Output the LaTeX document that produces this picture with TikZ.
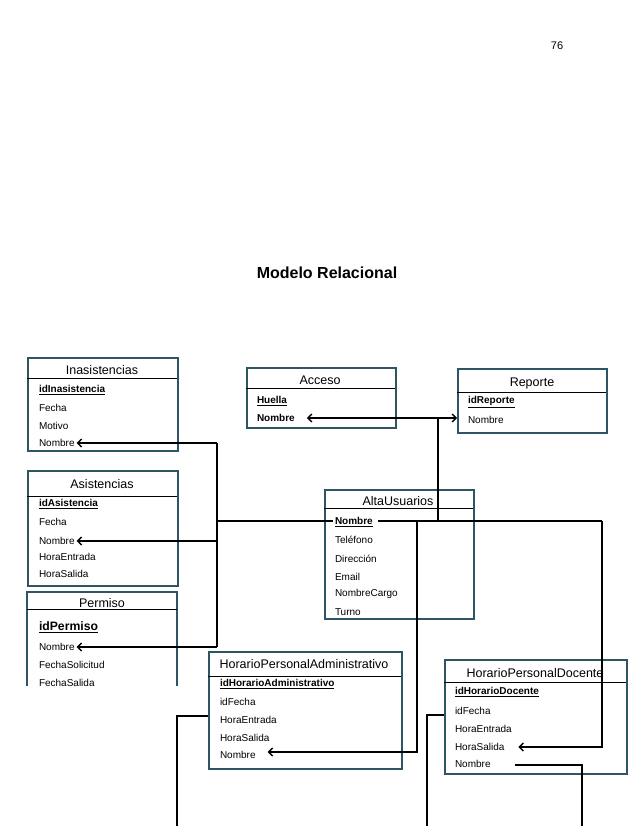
\documentclass[tikz,border=0pt]{standalone}
\usepackage{fontspec}
\setmainfont{Liberation Sans}
\usetikzlibrary{arrows.meta}
\definecolor{boxc}{RGB}{45,85,100}
\newcommand{\fs}{\fontsize{10}{12}\selectfont}
\newcommand{\hs}{\fontsize{12.5}{14}\selectfont}
\tikzset{
  tbl/.style={draw=boxc, line width=2.2pt, fill=white, anchor=north west, inner sep=0pt},
  fld/.style={anchor=west, font=\fs, inner sep=0pt, outer sep=2pt},
  key/.style={fld, font=\fs\bfseries},
  hdr/.style={font=\hs, inner sep=0pt},
  sep/.style={line width=0.8pt},
  con/.style={line width=1.4pt},
  arr/.style={con, -{Straight Barb[length=4pt,width=8pt,line width=1.4pt]}},
  arrb/.style={con, {Straight Barb[length=4pt,width=8pt,line width=1.4pt]}-{Straight Barb[length=4pt,width=8pt,line width=1.4pt]}}
}
\begin{document}
\begin{tikzpicture}[x=1pt,y=-1pt]
\useasboundingbox[fill=white] (0,0) rectangle (638,826);

\node[font=\fontsize{11}{13}\selectfont] (pg) at (557,46) {76};
\node[font=\fontsize{16}{18}\selectfont\bfseries] (title) at (327,273) {Modelo Relacional};

% Inasistencias
\node[tbl, minimum width=150pt, minimum height=93pt] (ina) at (27,357) {};
\draw[sep] (27,378) -- (177,378);
\node[hdr] (inaH) at (102,370) {Inasistencias};
\node[key] (inaId) at (37,390) {\underline{idInasistencia}};
\node[fld] (inaF) at (37,408) {Fecha};
\node[fld] (inaM) at (37,426) {Motivo};
\node[fld] (inaNom) at (37,443) {Nombre};

% Asistencias
\node[tbl, minimum width=150pt, minimum height=115pt] (asi) at (27,470) {};
\draw[sep] (27,496) -- (177,496);
\node[hdr] (asiH) at (102,484) {Asistencias};
\node[key] (asiId) at (37,504) {\underline{idAsistencia}};
\node[fld] (asiF) at (37,522) {Fecha};
\node[fld] (asiNom) at (37,541) {Nombre};
\node[fld] (asiE) at (37,557) {HoraEntrada};
\node[fld] (asiS) at (37,574) {HoraSalida};

% Permiso (cut at the bottom)
\draw[draw=boxc, line width=2.2pt] (27,686) -- (27,592) -- (177,592) -- (177,686);
\draw[sep] (27,609) -- (177,609);
\node[hdr] (perH) at (102,603) {Permiso};
\node[key, font=\fontsize{12.2}{14}\selectfont\bfseries] (perId) at (37,627) {\underline{idPermiso}};
\node[fld] (perNom) at (37,647) {Nombre};
\node[fld] (perFS) at (37,665) {FechaSolicitud};
\begin{scope}
\clip (0,600) rectangle (200,686);
\node[fld] (perFSal) at (37,683) {FechaSalida};
\end{scope}

% Acceso
\node[tbl, minimum width=149pt, minimum height=60pt] (acc) at (246,367) {};
\draw[sep] (246,388) -- (395,388);
\node[hdr] (accH) at (320,380) {Acceso};
\node[key] (accId) at (255,401) {\underline{Huella}};
\node[key] (accNom) at (255,418) {Nombre};

% Reporte
\node[tbl, minimum width=149pt, minimum height=64pt] (rep) at (457,368) {};
\draw[sep] (457,392) -- (606,392);
\node[hdr] (repH) at (532,383) {Reporte};
\node[key] (repId) at (466,402) {\underline{idReporte}};
\node[fld] (repNom) at (466,420) {Nombre};

% AltaUsuarios
\node[tbl, minimum width=149pt, minimum height=129pt] (alta) at (324,489) {};
\draw[sep] (324,508) -- (473,508);
\node[hdr] (altaH) at (398,501) {AltaUsuarios};
\node[key] (altaNom) at (333,522) {\underline{Nombre}};
\node[fld] (altaTel) at (333,540) {Teléfono};
\node[fld] (altaDir) at (333,559) {Dirección};
\node[fld] (altaEm) at (333,577) {Email};
\node[fld] (altaCar) at (333,594) {NombreCargo};
\node[fld] (altaTur) at (333,612) {Turno};

% HorarioPersonalAdministrativo
\node[tbl, minimum width=193pt, minimum height=117pt] (adm) at (208,651) {};
\draw[sep] (208,676) -- (401,676);
\node[hdr] (admH) at (304,664) {HorarioPersonalAdministrativo};
\node[key] (admId) at (218,684) {\underline{idHorarioAdministrativo}};
\node[fld] (admF) at (218,702) {idFecha};
\node[fld] (admE) at (218,720) {HoraEntrada};
\node[fld] (admS) at (218,738) {HoraSalida};
\node[fld] (admNom) at (218,755) {Nombre};

% HorarioPersonalDocente
\node[tbl, minimum width=182pt, minimum height=114pt] (doc) at (444,659) {};
\draw[sep] (444,682) -- (626,682);
\node[hdr] (docH) at (535,673) {HorarioPersonalDocente};
\node[key] (docId) at (453,692) {\underline{idHorarioDocente}};
\node[fld] (docF) at (453,711) {idFecha};
\node[fld] (docE) at (453,729) {HoraEntrada};
\node[fld] (docS) at (453,747) {HoraSalida};
\node[fld] (docNom) at (453,764) {Nombre};

% connectors: left bus
\coordinate (v1) at (217,443);
\coordinate (v2) at (217,541);
\coordinate (v3) at (217,647);
\coordinate (jL) at (217,521);
\draw[con] (v1) -- (v3);
\draw[arr] (v1) -- (inaNom.east);
\draw[arr] (v2) -- (asiNom.east);
\draw[arr] (v3) -- (perNom.east);
\draw[con] (jL) -- (altaNom.west |- jL);

% AltaUsuarios Nombre to the right
\coordinate (r0) at (378,521);
\coordinate (r1) at (602,521);
\coordinate (r2) at (602,747);
\coordinate (dT) at ([xshift=12pt]docS.east);
\draw[con] (r0) -- (r1);
\draw[arr] (r1) -- (r2) -- (dT);

% Acceso <-> Reporte
\coordinate (aT) at ([xshift=10pt]accNom.east);
\coordinate (m1) at (438,418);
\coordinate (m2) at (438,521);
\draw[arrb] (aT) -- (rep.west |- aT);
\draw[con] (m1) -- (m2);

% to HorarioPersonalAdministrativo
\coordinate (s1) at (417,521);
\coordinate (s2) at (417,752);
\coordinate (sT) at ([xshift=10pt]admNom.east);
\draw[arr] (s1) -- (s2) -- (sT |- s2);

% lines going down off the page
\coordinate (h1) at (177,716);
\coordinate (h2) at (177,826);
\draw[con] (adm.west |- h1) -- (h1) -- (h2);
\coordinate (d1) at (427,715);
\coordinate (d2) at (427,826);
\draw[con] (doc.west |- d1) -- (d1) -- (d2);
\coordinate (n0) at (515,765);
\coordinate (n1) at (582,765);
\coordinate (n2) at (582,826);
\draw[con] (n0) -- (n1) -- (n2);
\end{tikzpicture}
\end{document}
